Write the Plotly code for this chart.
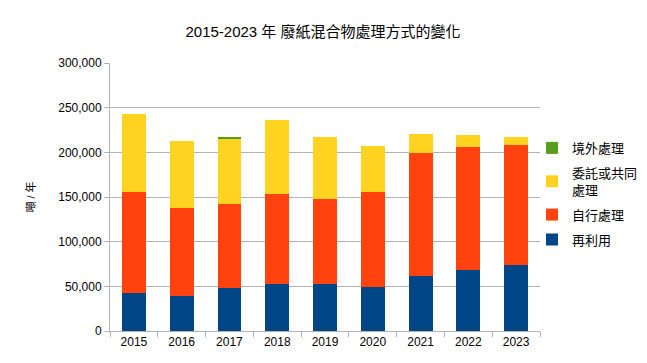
import plotly.graph_objects as go

years = ["2015", "2016", "2017", "2018", "2019", "2020", "2021", "2022", "2023"]
reuse = [42500, 39200, 48100, 52600, 52600, 49300, 61600, 68300, 73900]
self_treat = [113100, 98500, 94100, 100800, 95200, 106300, 137700, 137700, 134300]
commission = [87300, 75000, 72800, 82800, 69400, 51400, 21200, 13400, 9000]
overseas = [0, 0, 1200, 0, 0, 0, 0, 0, 0]

font = "Liberation Sans, Noto Sans CJK TC, sans-serif"
fig = go.Figure()
for i, (name, vals, col) in enumerate([
    ("再利用", reuse, "#004586"),
    ("自行處理", self_treat, "#ff420e"),
    ("委託或共同<br>處理", commission, "#ffd320"),
    ("境外處理", overseas, "#579d1c"),
]):
    fig.add_trace(go.Bar(x=years, y=vals, name=name, legendgroup=f"g{i}", legendrank=10 - i,
                         marker=dict(color=col, line=dict(width=0))))

W, H = 639, 355
fig.update_layout(
    barmode="stack",
    bargap=0.5,
    width=W, height=H,
    margin=dict(l=102, r=107, t=55, b=32, autoexpand=False),
    paper_bgcolor="white", plot_bgcolor="white",
    font=dict(family=font, size=12, color="black"),
    title=dict(text="2015-2023 年 廢紙混合物處理方式的變化", x=315 / W, xanchor="center",
               y=1 - 24 / H, yanchor="middle", font=dict(size=15, family=font)),
    legend=dict(x=1 - 8 / 430, xanchor="left", y=0.739, yanchor="top", traceorder="grouped",
                font=dict(size=13), itemwidth=30, tracegroupgap=5, bgcolor="rgba(0,0,0,0)"),
    xaxis=dict(type="category", showline=True, linecolor="#b3b3b3", ticks="outside", tickson="boundaries",
               ticklen=5, tickcolor="#b3b3b3", automargin=False),
    yaxis=dict(range=[0, 300000], dtick=50000, tickformat=",d", showgrid=True, gridcolor="#b3b3b3",
               showline=True, linecolor="#b3b3b3", ticks="outside", ticklen=5, tickcolor="#b3b3b3",
               zeroline=False, automargin=False,
               title=dict(text="噸 / 年", font=dict(size=11), standoff=20)),
)
fig.write_html("out.html")
